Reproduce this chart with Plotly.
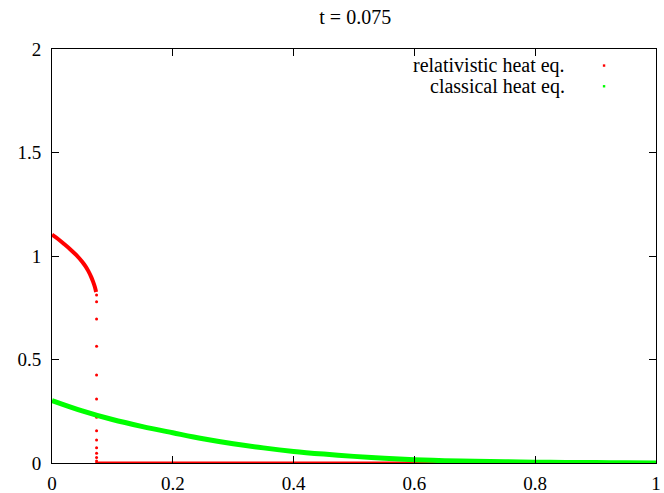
import plotly.graph_objects as go

# relativistic heat equation: smooth part before the front
rel_x = [0.0, 0.01, 0.02, 0.03, 0.04, 0.05, 0.055, 0.06, 0.065, 0.068, 0.071, 0.073]
rel_y = [1.103, 1.082, 1.058, 1.033, 1.005, 0.972, 0.952, 0.928, 0.898, 0.876, 0.850, 0.826]

# relativistic: points along the jump at the front
drop_x = [0.0738] * 14
drop_y = [0.812, 0.779, 0.696, 0.564, 0.425, 0.309, 0.221, 0.156, 0.111, 0.074, 0.047, 0.026, 0.010, 0.0]

# relativistic: zero beyond the front
zero_x = [0.075, 1.0]
zero_y = [0.0, 0.0]

# classical heat equation
cls_x = [0.0, 0.05, 0.1, 0.15, 0.2, 0.25, 0.3, 0.35, 0.4, 0.45, 0.5,
         0.55, 0.6, 0.65, 0.7, 0.75, 0.8, 0.85, 0.9, 0.95, 1.0]
cls_y = [0.302, 0.252, 0.210, 0.176, 0.146, 0.117, 0.093, 0.073, 0.056, 0.043, 0.032,
         0.023, 0.016, 0.011, 0.008, 0.006, 0.004, 0.003, 0.002, 0.001, 0.0005]

x_ticks = [0, 0.2, 0.4, 0.6, 0.8, 1]
y_ticks = [0, 0.5, 1, 1.5, 2]
title_text = "t = 0.075"
legend_labels = ["relativistic heat eq.", "classical heat eq."]

RED = "#ff0000"
GREEN = "#00ff00"
FONT = "Liberation Serif"

fig = go.Figure()
fig.add_trace(go.Scatter(x=rel_x, y=rel_y, mode="lines", line_shape="spline",
                         line=dict(color=RED, width=4), showlegend=False))
fig.add_trace(go.Scatter(x=drop_x, y=drop_y, mode="markers",
                         marker=dict(color=RED, size=3), showlegend=False))
fig.add_trace(go.Scatter(x=zero_x, y=zero_y, mode="lines", cliponaxis=False,
                         line=dict(color=RED, width=3), showlegend=False))
fig.add_trace(go.Scatter(x=cls_x, y=cls_y, mode="lines", line_shape="spline",
                         line=dict(color=GREEN, width=5), showlegend=False))

# gnuplot-style key: right-aligned text with the point symbol on the right
key_y = [0.960, 0.910]
for lbl, ky, col in zip(legend_labels, key_y, [RED, GREEN]):
    fig.add_annotation(text=lbl, xref="paper", yref="paper", x=0.851, y=ky,
                       xanchor="right", yanchor="middle", showarrow=False,
                       borderpad=0,
                       font=dict(family=FONT, size=20, color="#000000"))
    fig.add_shape(type="rect", xref="paper", yref="paper",
                  xsizemode="pixel", ysizemode="pixel",
                  xanchor=0.914, yanchor=ky, x0=-1.2, x1=1.2, y0=-1.2, y1=1.2,
                  line=dict(width=0), fillcolor=col)

axis_common = dict(showgrid=False, zeroline=False, showline=True, linecolor="#000000",
                   linewidth=1, mirror="allticks", ticks="inside", ticklen=7,
                   tickcolor="#000000", tickwidth=1, automargin=False,
                   ticklabeloverflow="allow",
                   tickfont=dict(family=FONT, size=19, color="#000000"))

fig.update_xaxes(range=[0, 1], tickvals=x_ticks, ticktext=[f"{v:g}" for v in x_ticks],
                 ticklabelstandoff=3, **axis_common)
fig.update_yaxes(range=[0, 2], tickvals=y_ticks, ticktext=[f"{v:g}" for v in y_ticks],
                 ticklabelstandoff=6, **axis_common)

fig.update_layout(
    width=664, height=493,
    margin=dict(l=52, r=8, t=49, b=30),
    paper_bgcolor="#ffffff", plot_bgcolor="#ffffff",
    title=dict(text=title_text, x=0.535, xanchor="center", y=0.965, yanchor="middle",
               font=dict(family=FONT, size=20, color="#000000")),
    showlegend=False,
)

fig.write_html("out.html", config={"displayModeBar": False},
               post_script="document.body.style.margin='0';document.body.style.padding='0';")
